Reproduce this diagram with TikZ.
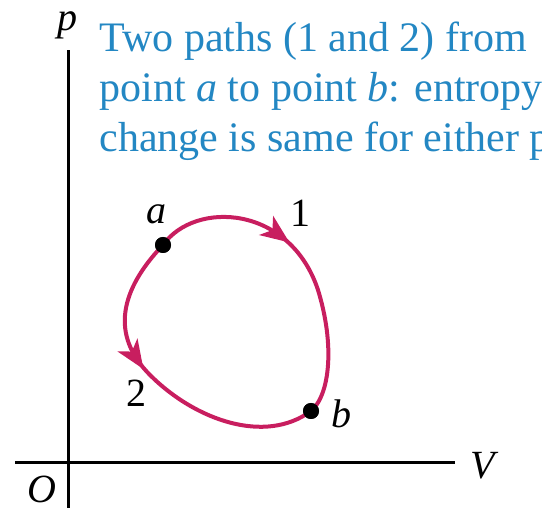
\documentclass[tikz,border=0pt]{standalone}
\usepackage{fontspec}
\setmainfont{Liberation Serif}
\usetikzlibrary{decorations.markings}
\definecolor{capblue}{RGB}{35,135,195}
\definecolor{pathred}{RGB}{200,30,95}

\begin{document}
\begin{tikzpicture}[x=1pt,y=-1pt,line width=3pt,
  dot/.style={circle,fill=black,inner sep=0pt,minimum size=16pt},
  lbl/.style={font=\fontsize{40}{44}\selectfont,inner sep=0pt},
  midarrow/.style={postaction={decorate,decoration={markings,
    mark=at position #1 with {\fill (12pt,0pt) -- (-17pt,12pt) -- (-9pt,0pt) -- (-17pt,-12pt) -- cycle;}}}}]
  \useasboundingbox (0,0) rectangle (542,508);
  % axes
  \coordinate (origin) at (68,463);
  \coordinate (vtop) at (68,50);
  \coordinate (vbot) at (68,508);
  \coordinate (hleft) at (15,463);
  \coordinate (hright) at (455,463);
  \draw (vbot) -- (vtop);
  \draw (hleft) -- (hright);
  \node[lbl] (plbl) at (67,25) {\textit{p}};
  \node[lbl] (vlbl) at (485,466) {\textit{V}};
  \node[lbl] (olbl) at (42,489) {\textit{O}};
  % caption
  \node[lbl,anchor=north west,align=left,text=capblue,
    font=\fontsize{42}{50}\selectfont] (caption) at (98,20)
    {Two paths (1 and 2) from\\point \textit{a} to point \textit{b}: entropy\\change is same for either path};
  % states
  \node[dot] (a) at (163,245) {};
  \node[dot] (b) at (311,411) {};
  \draw[pathred,line width=4pt,midarrow=0.40] (a.center)
    .. controls (195,200) and (290,205) .. (318,290)
    .. controls (335,345) and (330,395) .. (b.center);
  \draw[pathred,line width=4pt,midarrow=0.39] (a.center)
    .. controls (120,290) and (110,335) .. (150,375)
    .. controls (195,420) and (265,445) .. (b.center);
  \node[dot] at (a) {};
  \node[dot] at (b) {};
  \node[lbl] (albl) at (156,214) {\textit{a}};
  \node[lbl] (blbl) at (341,414) {\textit{b}};
  \node[lbl] (onelbl) at (300,213) {1};
  \node[lbl] (twolbl) at (136,393) {2};
\end{tikzpicture}
\end{document}
